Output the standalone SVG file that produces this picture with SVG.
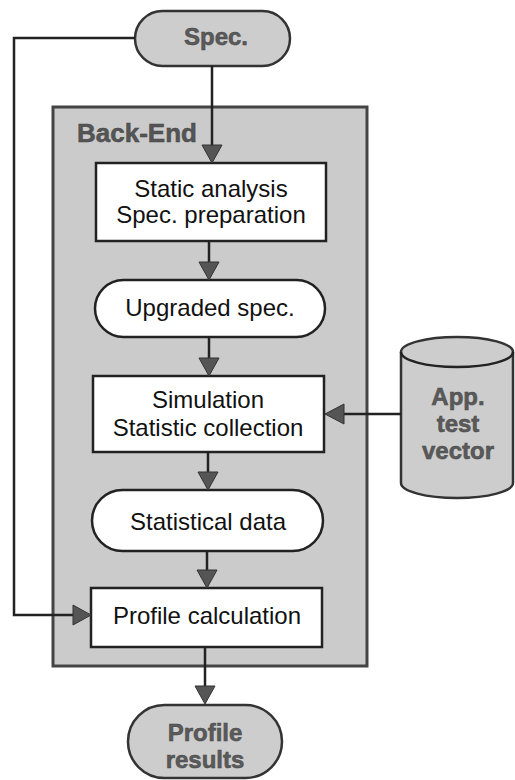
<svg xmlns="http://www.w3.org/2000/svg" width="515" height="780" viewBox="0 0 515 780">
<style>
.box{fill:#fff;stroke:#222;stroke-width:2.5}
.gray{fill:#cdcdcd;stroke:#333;stroke-width:2.5}
.t{font-family:"Liberation Sans",Arial,sans-serif;font-size:24px;fill:#111;text-anchor:middle}
.b{font-family:"Liberation Sans",Arial,sans-serif;font-size:24px;font-weight:bold;fill:#5a5a5a;stroke:#444;stroke-width:0.5;text-anchor:middle}
.ln{fill:none;stroke:#222;stroke-width:2.5}
.ah{fill:#555;stroke:#333;stroke-width:1}
</style>
<rect width="515" height="780" fill="#fff"/>
<g id="backend">
<rect x="53" y="107" width="314" height="559" fill="#cbcbcb" stroke="#444" stroke-width="3"/>
<text x="77" y="142" font-family="Liberation Sans,Arial,sans-serif" font-size="26" font-weight="bold" fill="#555" stroke="#444" stroke-width="0.5">Back-End</text>
</g>
<g id="spec">
<rect x="135" y="11" width="155" height="55" rx="27.5" class="gray"/>
<text x="216" y="45" class="b" font-size="25">Spec.</text>
</g>
<g id="static">
<rect x="96" y="163" width="230" height="78" class="box"/>
<text x="211" y="197" class="t">Static analysis</text>
<text x="211" y="223" class="t">Spec. preparation</text>
</g>
<g id="upgraded">
<rect x="95" y="280" width="230" height="57" rx="28.5" class="box"/>
<text x="210" y="316" class="t">Upgraded spec.</text>
</g>
<g id="simulation">
<rect x="93" y="376" width="231" height="76" class="box"/>
<text x="208" y="408" class="t">Simulation</text>
<text x="208" y="436" class="t">Statistic collection</text>
</g>
<g id="testvector">
<path d="M401,352 A56,15 0 0 1 513,352 L513,483 A56,15 0 0 1 401,483 Z" class="gray"/>
<path d="M401,352 A56,15 0 0 0 513,352" class="ln" stroke="#333"/>
<text x="458" y="405" class="b">App.</text>
<text x="458" y="432" class="b">test</text>
<text x="458" y="459" class="b">vector</text>
</g>
<g id="statdata">
<rect x="92" y="490" width="231" height="61" rx="30.5" class="box"/>
<text x="208" y="530" class="t">Statistical data</text>
</g>
<g id="profilecalc">
<rect x="91" y="588" width="231" height="59" class="box"/>
<text x="207" y="624" class="t">Profile calculation</text>
</g>
<g id="results">
<rect x="128" y="705" width="154" height="73" rx="36.5" class="gray"/>
<text x="205" y="741" class="b">Profile</text>
<text x="205" y="768" class="b">results</text>
</g>
<g id="connectors">
<path class="ln" d="M212,66 V145"/>
<polygon points="202,145 222,145 212,163" class="ah"/>
<path class="ln" d="M209,241 V262"/>
<polygon points="199,262 219,262 209,280" class="ah"/>
<path class="ln" d="M209,337 V358"/>
<polygon points="199,358 219,358 209,376" class="ah"/>
<path class="ln" d="M401,414 H344"/>
<polygon points="344,404 344,424 325,414" class="ah"/>
<path class="ln" d="M208,452 V472"/>
<polygon points="198,472 218,472 208,490" class="ah"/>
<path class="ln" d="M207,551 V570"/>
<polygon points="197,570 217,570 207,588" class="ah"/>
<path class="ln" d="M205,647 V686"/>
<polygon points="195,686 215,686 205,704" class="ah"/>
<path class="ln" d="M135,38 H14 V615 H73"/>
<polygon points="73,605 73,625 91,615" class="ah"/>
</g>
</svg>
